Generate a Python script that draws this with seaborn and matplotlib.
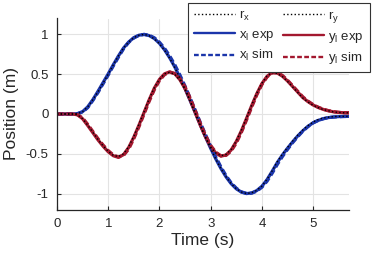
import numpy as np
import pandas as pd
import matplotlib
matplotlib.use("Agg")
import matplotlib.pyplot as plt
import seaborn as sns

time_s = np.round(np.arange(58) * 0.1, 1)

r_x = [0, 0, 0, 0, 0.005, 0.03, 0.09, 0.18, 0.28, 0.39, 0.50, 0.62, 0.73, 0.83, 0.905, 0.96, 0.99, 1.0,
       0.983, 0.944, 0.882, 0.80, 0.70, 0.582, 0.45, 0.31, 0.16, 0.008, -0.145, -0.294, -0.436, -0.567,
       -0.687, -0.79, -0.875, -0.939, -0.98, -0.999, -0.99, -0.96, -0.905, -0.82, -0.715, -0.60, -0.505,
       -0.42, -0.34, -0.265, -0.20, -0.145, -0.10, -0.07, -0.05, -0.04, -0.033, -0.03, -0.03, -0.03]
r_y = [0, 0, 0, 0, -0.01, -0.06, -0.14, -0.23, -0.32, -0.40, -0.47, -0.52, -0.535, -0.50, -0.41, -0.28,
       -0.13, 0.03, 0.19, 0.33, 0.435, 0.505, 0.525, 0.497, 0.424, 0.31, 0.166, 0.008, -0.151, -0.296,
       -0.413, -0.49, -0.524, -0.508, -0.445, -0.339, -0.203, -0.047, 0.112, 0.261, 0.387, 0.476, 0.52,
       0.51, 0.47, 0.41, 0.34, 0.27, 0.20, 0.15, 0.11, 0.08, 0.055, 0.04, 0.025, 0.02, 0.015, 0.015]
x_exp = [0, 0, 0, 0, 0.005, 0.03, 0.09, 0.18, 0.285, 0.395, 0.505, 0.62, 0.73, 0.83, 0.905, 0.96, 0.99, 1.0,
         0.985, 0.948, 0.888, 0.806, 0.706, 0.59, 0.458, 0.318, 0.168, 0.015, -0.14, -0.29, -0.432, -0.565,
         -0.685, -0.79, -0.876, -0.94, -0.982, -1.0, -0.992, -0.962, -0.908, -0.825, -0.72, -0.61, -0.515,
         -0.43, -0.35, -0.275, -0.21, -0.155, -0.11, -0.08, -0.06, -0.045, -0.038, -0.033, -0.03, -0.03]
x_sim = [0, 0, 0, 0, 0.004, 0.025, 0.08, 0.17, 0.27, 0.38, 0.49, 0.605, 0.715, 0.82, 0.9, 0.955, 0.988, 1.0,
         0.99, 0.958, 0.902, 0.825, 0.73, 0.618, 0.49, 0.35, 0.2, 0.045, -0.11, -0.26, -0.405, -0.54,
         -0.665, -0.775, -0.865, -0.932, -0.978, -0.998, -0.995, -0.97, -0.92, -0.845, -0.745, -0.635,
         -0.535, -0.445, -0.36, -0.285, -0.215, -0.158, -0.112, -0.08, -0.058, -0.045, -0.038, -0.034,
         -0.032, -0.03]
y_exp = [0, 0, 0, 0, -0.01, -0.06, -0.145, -0.235, -0.325, -0.405, -0.475, -0.525, -0.545, -0.51, -0.42,
         -0.29, -0.14, 0.02, 0.18, 0.325, 0.435, 0.505, 0.53, 0.505, 0.43, 0.318, 0.175, 0.015, -0.145,
         -0.29, -0.41, -0.49, -0.53, -0.515, -0.452, -0.345, -0.21, -0.055, 0.105, 0.255, 0.382, 0.473,
         0.522, 0.515, 0.475, 0.415, 0.345, 0.275, 0.205, 0.155, 0.113, 0.082, 0.057, 0.04, 0.027, 0.02,
         0.016, 0.015]
y_sim = [0, 0, 0, 0, -0.008, -0.05, -0.13, -0.22, -0.31, -0.39, -0.46, -0.515, -0.54, -0.52, -0.44, -0.31,
         -0.16, 0.0, 0.16, 0.305, 0.42, 0.495, 0.525, 0.51, 0.445, 0.34, 0.2, 0.04, -0.12, -0.27, -0.395,
         -0.48, -0.525, -0.52, -0.465, -0.365, -0.23, -0.075, 0.085, 0.24, 0.37, 0.465, 0.518, 0.518, 0.485,
         0.425, 0.355, 0.285, 0.215, 0.162, 0.118, 0.085, 0.06, 0.042, 0.029, 0.021, 0.017, 0.015]

x_ticks = [0, 1, 2, 3, 4, 5]
y_ticks = [-1, -0.5, 0, 0.5, 1]
y_tick_labels = ["-1", "-0.5", "0", "0.5", "1"]

BLUE = "#1b35aa"
RED = "#a3182f"

sns.set_theme(style="whitegrid")
plt.rcParams["font.family"] = ["Liberation Sans", "DejaVu Sans"]
plt.rcParams["mathtext.fontset"] = "custom"
plt.rcParams["mathtext.rm"] = "Liberation Sans"

fig = plt.figure(figsize=(3.86, 2.58), dpi=100)
ax = fig.add_axes([57 / 386, 1 - 209.5 / 258, (349 - 57) / 386, (209.5 - 18.5) / 258])

df = pd.DataFrame({"t": time_s, "r_x": r_x, "r_y": r_y, "x_exp": x_exp,
                   "x_sim": x_sim, "y_exp": y_exp, "y_sim": y_sim})

lines = {}
lines["x_exp"] = sns.lineplot(data=df, x="t", y="x_exp", ax=ax, color=BLUE, lw=2.3).lines[-1]
lines["y_exp"] = sns.lineplot(data=df, x="t", y="y_exp", ax=ax, color=RED, lw=2.3).lines[-1]
lines["x_sim"] = sns.lineplot(data=df, x="t", y="x_sim", ax=ax, color=BLUE, lw=2.3).lines[-1]
lines["x_sim"].set_dashes((2, 1))
lines["y_sim"] = sns.lineplot(data=df, x="t", y="y_sim", ax=ax, color=RED, lw=2.3).lines[-1]
lines["y_sim"].set_dashes((2, 1))
lines["r_x"] = sns.lineplot(data=df, x="t", y="r_x", ax=ax, color="black", lw=1.0).lines[-1]
lines["r_x"].set_linestyle(":")
lines["r_y"] = sns.lineplot(data=df, x="t", y="r_y", ax=ax, color="black", lw=1.0).lines[-1]
lines["r_y"].set_linestyle(":")

ax.set_xlim(0, 5.7)
ax.set_ylim(-1.2, 1.2)
ax.set_xticks(x_ticks)
ax.set_yticks(y_ticks)
ax.set_yticklabels(y_tick_labels)
ax.grid(True, color="#e3e3e3", lw=0.8)
for s in ["top", "right"]:
    ax.spines[s].set_visible(False)
for s in ["left", "bottom"]:
    ax.spines[s].set_visible(True)
    ax.spines[s].set_color("#262626")
    ax.spines[s].set_linewidth(0.9)
ax.tick_params(axis="both", direction="in", length=3, width=0.8, color="#262626",
               labelsize=9.5, labelcolor="#262626", pad=6, left=True, bottom=True)
ax.set_xlabel("Time (s)", fontsize=12.5, color="#262626", labelpad=2)
ax.set_ylabel("Position (m)", fontsize=12.5, color="#262626", labelpad=5)

handles = [lines["r_x"], lines["x_exp"], lines["x_sim"], lines["r_y"], lines["y_exp"], lines["y_sim"]]
labels = [r"r$_\mathregular{x}$", r"x$_\mathregular{l}$ exp", r"x$_\mathregular{l}$ sim",
          r"r$_\mathregular{y}$", r"y$_\mathregular{l}$ exp", r"y$_\mathregular{l}$ sim"]
leg = ax.legend(handles, labels, ncol=2, loc="upper right",
                bbox_to_anchor=(370 / 386, 1 - 3 / 258), bbox_transform=fig.transFigure,
                borderaxespad=0, fontsize=9.5, handlelength=3.1, handletextpad=0.35,
                columnspacing=0.6, labelspacing=0.42, fancybox=False, framealpha=1,
                edgecolor="#333333", borderpad=0.45)
leg.get_frame().set_linewidth(0.8)
for h in leg.legend_handles:
    h.set_linewidth(1.7 if h.get_linestyle() != ":" else 1.0)

fig.savefig("out.png", dpi=100)
